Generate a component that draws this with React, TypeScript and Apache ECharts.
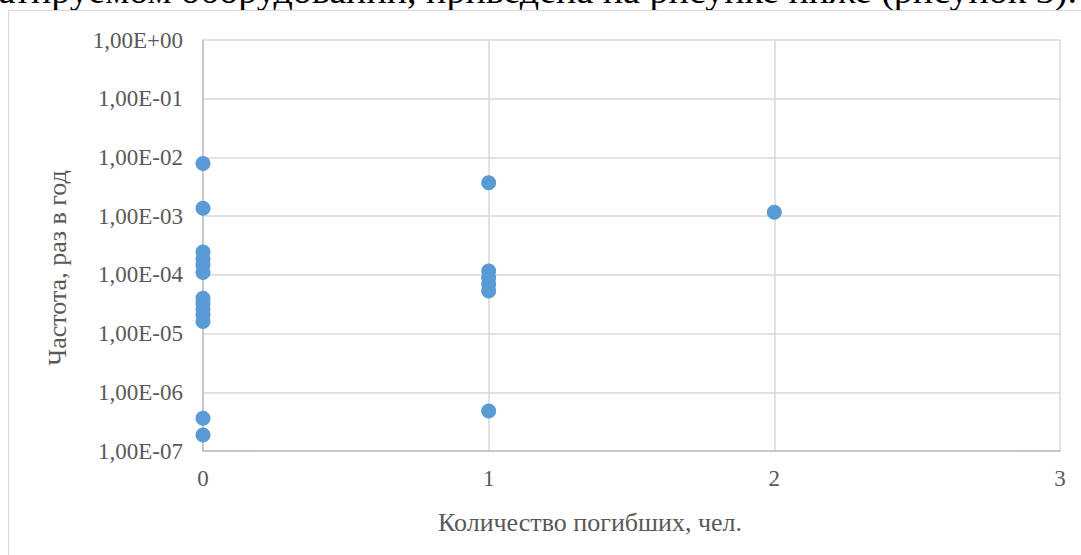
import React, { useEffect, useRef } from "react";
import * as echarts from "echarts";

// Number of fatalities per scenario (x) and scenario frequency per year (y)
const fatalities: number[] = [
  0, 0, 0, 0, 0, 0, 0, 0, 0, 0, 0, 0, 0,
  1, 1, 1, 1, 1, 1,
  2,
];
const frequencies: number[] = [
  7.9e-3, 1.36e-3, 2.45e-4, 1.86e-4, 1.47e-4, 1.1e-4,
  4.0e-5, 3.3e-5, 2.6e-5, 2.1e-5, 1.6e-5, 3.6e-7, 1.87e-7,
  3.7e-3, 1.16e-4, 8.9e-5, 6.9e-5, 5.3e-5, 4.8e-7,
  1.16e-3,
];

const xTicks: number[] = [0, 1, 2, 3];
const yMin = 1e-7;
const yMax = 1;

const headLine = "эксплуатируемом оборудовании, приведена на рисунке ниже (рисунок 3).";
const yTitle = "Частота, раз в год";
const xTitle = "Количество погибших, чел.";

const TEXT = "#595959";
const GRID = "#d9d9d9";
const AXIS = "#bfbfbf";
const POINT = "#5b9bd5";
const FONT = "'Liberation Serif', 'Times New Roman', serif";

function sciLabel(v: number): string {
  const e = Math.round(Math.log10(v));
  const sign = e < 0 ? "-" : "+";
  const abs = Math.abs(e);
  return `1,00E${sign}${abs < 10 ? "0" + abs : abs}`;
}

export default function App() {
  const ref = useRef<HTMLDivElement>(null);

  useEffect(() => {
    if (!ref.current) return;
    const chart = echarts.init(ref.current, undefined, { renderer: "svg" });
    chart.setOption({
      animation: false,
      grid: { left: 203, top: 40, width: 857, height: 411, containLabel: false },
      xAxis: {
        type: "value",
        min: xTicks[0],
        max: xTicks[xTicks.length - 1],
        interval: 1,
        axisLine: { show: true, lineStyle: { color: AXIS, width: 1.5 } },
        axisTick: { show: false },
        axisLabel: { color: TEXT, fontFamily: FONT, fontSize: 23, margin: 16 },
        splitLine: { show: true, lineStyle: { color: GRID, width: 1.5 } },
      },
      yAxis: {
        type: "log",
        logBase: 10,
        min: yMin,
        max: yMax,
        axisLine: { show: true, lineStyle: { color: AXIS, width: 1.5 } },
        axisTick: { show: false },
        axisLabel: {
          color: TEXT,
          fontFamily: FONT,
          fontSize: 23,
          margin: 20,
          formatter: (v: number) => sciLabel(v),
        },
        splitLine: { show: true, lineStyle: { color: GRID, width: 1.5 } },
      },
      // Axis titles are centred on the whole chart box rather than the plot area
      graphic: [
        {
          type: "text",
          x: 590,
          y: 522,
          style: {
            text: xTitle,
            fill: TEXT,
            font: `26px ${FONT}`,
            align: "center",
            verticalAlign: "middle",
          },
        },
        {
          type: "text",
          x: 57,
          y: 268,
          rotation: Math.PI / 2,
          style: {
            text: yTitle,
            fill: TEXT,
            font: `26px ${FONT}`,
            align: "center",
            verticalAlign: "middle",
          },
        },
      ],
      series: [
        {
          type: "scatter",
          symbol: "circle",
          symbolSize: 15,
          itemStyle: { color: POINT, opacity: 1 },
          data: fatalities.map((x, i) => [x, frequencies[i]]),
        },
      ],
    });
    return () => chart.dispose();
  }, []);

  return (
    <div
      style={{
        position: "fixed",
        left: 0,
        top: 0,
        width: 1081,
        height: 555,
        background: "#fff",
        overflow: "hidden",
      }}
    >
      <div
        style={{
          position: "absolute",
          right: 4,
          top: -30,
          whiteSpace: "nowrap",
          fontFamily: FONT,
          fontSize: 38,
          lineHeight: "40px",
          color: "#000",
        }}
      >
        {headLine}
      </div>
      <div
        style={{
          position: "absolute",
          left: 8,
          top: 10,
          width: 1100,
          height: 600,
          border: `1.5px solid ${GRID}`,
          boxSizing: "border-box",
        }}
      />
      <div ref={ref} style={{ position: "absolute", left: 0, top: 0, width: 1081, height: 555 }} />
    </div>
  );
}
